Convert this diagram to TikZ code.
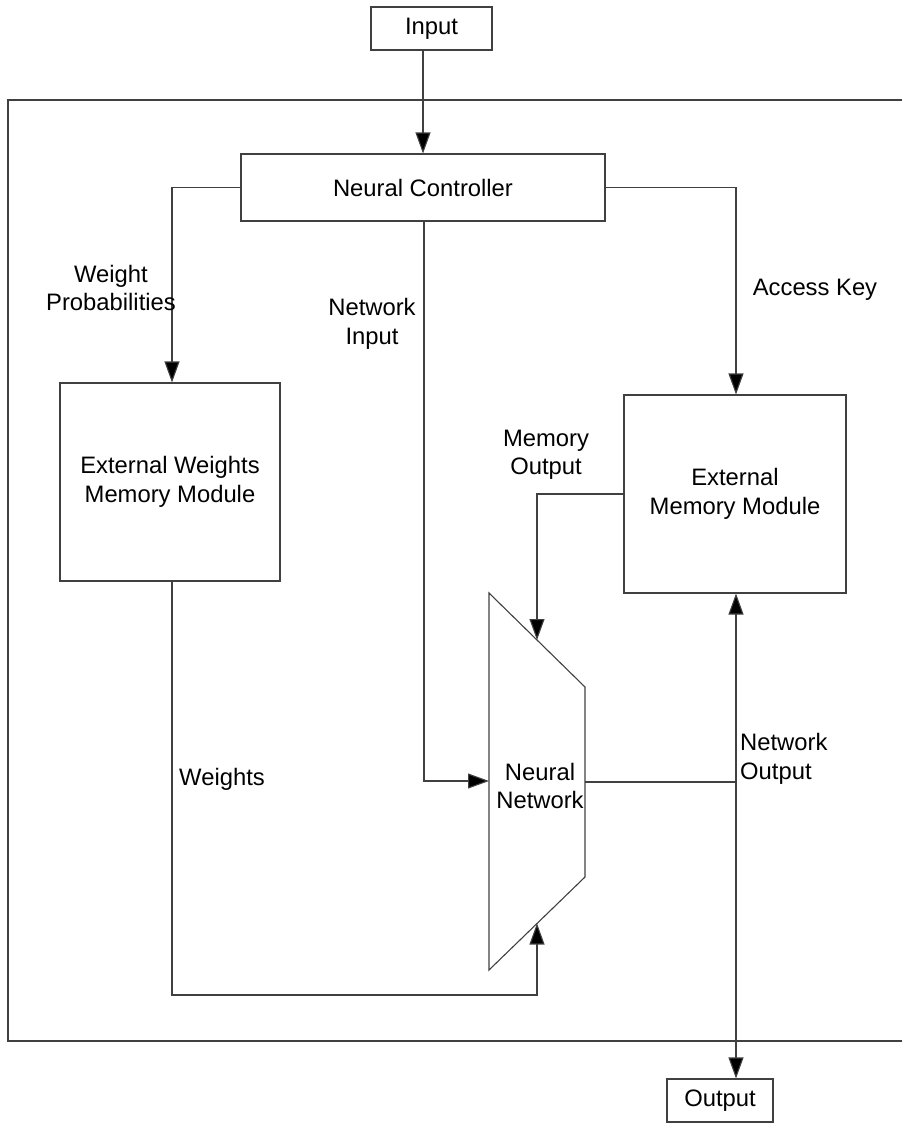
\documentclass[tikz,border=0pt]{standalone}
\usepackage{fontspec}
\setmainfont{Liberation Sans}
\usetikzlibrary{arrows.meta,calc}
\begin{document}
\begin{tikzpicture}[x=1pt,y=-1pt,
  every node/.style={font=\fontsize{23.8}{28.5}\selectfont, text=black},
  box/.style={draw=black!75, line width=1.1pt, inner sep=0pt},
  conn/.style={draw=black!75, line width=1.1pt},
  tip/.style={Triangle[length=21pt,width=15pt,fill=black]},
  arr/.style={conn, -{Triangle[length=21pt,width=15pt,fill=black]}},
  lbl/.style={align=center, inner sep=0pt}]
\useasboundingbox (0,0) rectangle (902,1128);
% outer frame (open on the right)
\draw[conn] (902,100) -- (8,100) -- (8,1041) -- (902,1041);
% boxes
\node[box, minimum width=121pt, minimum height=43pt] (in) at (431.5,28.5) {Input};
\node[box, minimum width=364pt, minimum height=67pt] (ctrl) at (423,187.5) {Neural Controller};
\node[box, minimum width=220pt, minimum height=198pt, align=center] (ew) at (170,482) {External Weights\\Memory Module};
\node[box, minimum width=222pt, minimum height=198pt, align=center] (em) at (735,494) {External\\Memory Module};
\node[box, minimum width=106pt, minimum height=43pt] (out) at (720,1100.5) {Output};
% neural network trapezoid
\coordinate (t1) at (489,593);
\coordinate (t2) at (585,687);
\coordinate (t3) at (585,877);
\coordinate (t4) at (489,970);
\draw[box] (t1) -- (t2) -- (t3) -- (t4) -- cycle;
\node[lbl] (nn) at (540,786) {Neural\\Network};
\coordinate (m1) at ($(t1)!0.5!(t2)$);
\coordinate (m2) at ($(t3)!0.5!(t4)$);
\coordinate (nnL) at (489,781);
\coordinate (nnR) at (585,782);
\coordinate (wb) at (537,995);
\coordinate (ewN) at ([xshift=2pt]ew.north);
\coordinate (ewS) at ([xshift=2pt]ew.south);
\coordinate (emN) at ([xshift=1pt]em.north);
\coordinate (emS) at ([xshift=1pt]em.south);
\coordinate (ctS) at ([xshift=1pt]ctrl.south);
% connectors
\draw[arr] (in.south -| ctrl.north) -- (ctrl.north);
\draw[arr] (ctrl.west) -| (ewN);
\draw[arr] (ctrl.east) -| (emN);
\draw[arr] (ctS) |- (nnL);
\draw[arr] (em.west) -| (m1);
\draw[arr] (ewS) |- (wb) -- (m2);
\draw[conn] (nnR) -- (nnR -| emS);
\draw[conn, {Triangle[length=21pt,width=15pt,fill=black]}-{Triangle[length=21pt,width=15pt,fill=black]}] (emS) -- (emS |- out.north);
% labels
\node[lbl] (lwp) at (111,288) {Weight\\Probabilities};
\node[lbl] (lni) at (372,324) {Network\\Input};
\node[lbl] (lak) at (815,290) {Access Key};
\node[lbl] (lmo) at (546,455) {Memory\\Output};
\node[lbl, align=left, anchor=west] (lno) at (740,759) {Network\\Output};
\node[lbl] (lw) at (222,779) {Weights};
\end{tikzpicture}
\end{document}
